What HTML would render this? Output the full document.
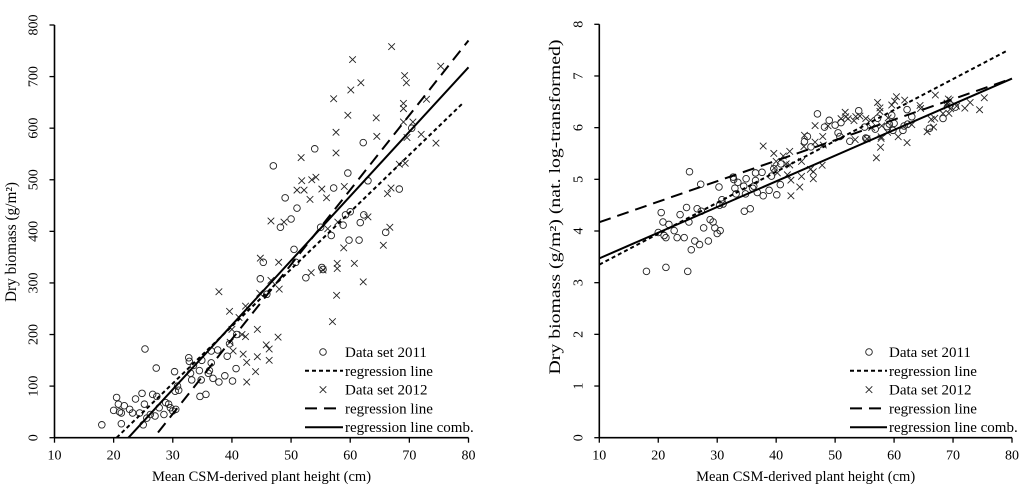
<!DOCTYPE html>
<html><head><meta charset="utf-8"><style>
body{margin:0;background:#fff}
svg{display:block;font-family:"Liberation Serif",serif}
</style></head><body>
<svg id="fig" width="1024" height="491" viewBox="0 0 1024 491"></svg>
<script>
// ---- data ----
const x2011 = [18,20,20.5,20.8,21,21.3,21.3,21.8,22.7,23.2,23.7,24.4,24.8,25,25.2,25.3,25.6,26.2,26.6,27,27.2,27.3,27.7,28.5,28.8,29.3,29.6,30,30.3,30.4,30.5,30.8,31,32.7,32.8,33,33.2,33.5,34.5,34.6,34.8,34.9,35.6,36,36.2,36.5,36.5,36.8,37.6,37.8,38.8,39.2,39.6,40.1,40.7,40.8,44.8,45.3,45.9,47,48.2,49,50,50.5,50.8,51,52.5,54,55,55.2,55.4,56.8,57.2,58.8,59.2,59.6,59.8,60,61.5,61.7,62.2,62.3,63,66,68.3,70.4];
const y2011 = [25,53,78,65,50,27,48,62,55,48,75,48,86,25,65,172,38,45,84,42,135,80,58,45,68,65,58,52,128,90,55,100,92,155,148,125,112,140,130,80,112,150,84,125,130,145,168,115,170,108,120,158,182,110,134,200,308,340,278,527,408,465,424,365,340,445,310,560,408,330,326,392,484,412,432,513,383,438,383,417,572,432,498,398,482,600];
const x2012 = [37.8,39.6,39.7,40,40.2,41.2,41.7,41.9,42.3,42.3,42.5,42.5,44,44.3,44.3,44.7,44.8,45.8,46.3,46.3,46.6,46.6,47.8,47.9,48,48.8,51,51.7,51.8,52.2,53.2,53.4,53.5,54.2,55.2,55.4,56,56.2,57,57.2,57.6,57.6,57.7,57.8,57.8,57.9,58.9,59,59.6,60.1,60.4,60.7,61.8,62.2,63,64.4,64.5,65.6,66.3,66.7,66.9,67,68.3,69,69,69.2,69.3,69.5,69.6,72,72.9,74.5,75.3,70.6,69];
const y2012 = [283,245,185,210,168,233,200,162,255,196,108,146,128,210,157,280,348,180,150,172,305,420,195,340,288,418,480,543,498,480,462,320,500,505,482,325,465,405,225,657,592,552,276,338,328,418,368,487,625,674,733,338,688,302,428,620,584,373,473,408,484,758,530,648,612,702,532,688,582,588,656,571,720,612,638];
// regression lines [x0, y0, x1, y1]
const regLin2011 = [20.5,0,79,648];
const regLin2012 = [27.5,10,80,770];
const regLinComb = [22.5,0,80,718];
const regLog2011 = [10,3.35,79,7.48];
const regLog2012 = [10,4.17,80,6.95];
const regLogComb = [10,3.47,80,6.95];
const xTicks = [10,20,30,40,50,60,70,80];
const yTicksLin = [0,100,200,300,400,500,600,700,800];
const yTicksLog = [0,1,2,3,4,5,6,7,8];

const NS="http://www.w3.org/2000/svg";
const svg=document.getElementById('fig');
function mk(tag,attrs,parent){const e=document.createElementNS(NS,tag);for(const k in attrs)e.setAttribute(k,attrs[k]);(parent||svg).appendChild(e);return e;}

function chart(cfg){
  const g=mk('g',{});
  
  
  const sx=v=>cfg.x0+(v-10)/70*(cfg.x1-cfg.x0);
  const sy=v=>cfg.yb-(v-cfg.ymin)/(cfg.ymax-cfg.ymin)*(cfg.yb-cfg.yt);
  const xa=mk('line',{x1:cfg.x0,y1:cfg.yb,x2:cfg.x1,y2:cfg.yb,stroke:'#000','stroke-width':1.6},g);
  
  
  const ya=mk('line',{x1:cfg.x0,y1:cfg.yb,x2:cfg.x0,y2:cfg.yt,stroke:'#000','stroke-width':1.6},g);
  
  
  xTicks.forEach(t=>{
    mk('line',{x1:sx(t),y1:cfg.yb,x2:sx(t),y2:cfg.yb+5,stroke:'#000','stroke-width':1.3},g);
    const tx=mk('text',{x:sx(t),y:cfg.yb+22,'text-anchor':'middle','font-size':14},g);
    tx.textContent=t;
    
    
  });
  cfg.yTicks.forEach(t=>{
    mk('line',{x1:cfg.x0-5,y1:sy(t),x2:cfg.x0,y2:sy(t),stroke:'#000','stroke-width':1.3},g);
    const tx=mk('text',{x:0,y:0,'text-anchor':'middle','font-size':14,transform:`translate(${cfg.x0-17},${sy(t)}) rotate(-90)`},g);
    tx.textContent=t;
    
    
  });
  const xt=mk('text',{x:(cfg.x0+cfg.x1)/2,y:481,'text-anchor':'middle','font-size':14.5},g);
  xt.textContent='Mean CSM-derived plant height (cm)';
  
  
  const yt=mk('text',{x:-cfg.ytl/2,y:0,'font-size':15.5,textLength:cfg.ytl,lengthAdjust:'spacingAndGlyphs',transform:`translate(${cfg.ytx},${cfg.ytc}) rotate(-90)`},g);
  yt.textContent=cfg.ytitle;
  
  
  x2011.forEach((x,i)=>{
    const c=mk('circle',{cx:sx(x),cy:sy(cfg.f(y2011[i])),r:3.3,fill:'none',stroke:'#222','stroke-width':0.9},g);
    
    
  });
  x2012.forEach((x,i)=>{
    const px=sx(x),py=sy(cfg.f(y2012[i])),d=3.3;
    const p=mk('path',{d:`M${px-d},${py-d}L${px+d},${py+d}M${px-d},${py+d}L${px+d},${py-d}`,stroke:'#222','stroke-width':0.9},g);
    
    
  });
  const styles=[[cfg.r11,'4,3','regression-line-2011'],[cfg.r12,'12,7','regression-line-2012'],[cfg.rc,'none','regression-line-combined']];
  styles.forEach(([r,da,nm])=>{
    const l=mk('line',{x1:sx(r[0]),y1:sy(r[1]),x2:sx(r[2]),y2:sy(r[3]),stroke:'#000','stroke-width':2,'stroke-dasharray':da},g);
    
    
  });
  const lg=mk('g',{},g);
  
  
  const labels=['Data set 2011','regression line','Data set 2012','regression line','regression line comb.'];
  const L=cfg.leg;
  labels.forEach((lab,i)=>{
    const y=352+i*18.8;
    if(i===0) mk('circle',{cx:L.sym,cy:y,r:3.3,fill:'none',stroke:'#222','stroke-width':0.9},lg);
    else if(i===2) mk('path',{d:`M${L.sym-3.3},${y-3.3}L${L.sym+3.3},${y+3.3}M${L.sym-3.3},${y+3.3}L${L.sym+3.3},${y-3.3}`,stroke:'#222','stroke-width':0.9},lg);
    else mk('line',{x1:L.l0,y1:y,x2:L.l1,y2:y,stroke:'#000','stroke-width':2,'stroke-dasharray':i===1?'4,3':(i===3?'12,7':'none')},lg);
    const t=mk('text',{x:L.tx,y:y+5,'font-size':15},lg);
    t.textContent=lab;
    
    
  });
}
chart({name:'linear-chart',x0:54.5,x1:468.5,yb:437.7,yt:25,ymin:0,ymax:800,yTicks:yTicksLin,f:v=>v,ytx:16,ytc:242,ytl:120,
  ytitle:'Dry biomass (g/m²)',r11:regLin2011,r12:regLin2012,rc:regLinComb,leg:{sym:323,l0:305,l1:343,tx:345}});
chart({name:'log-chart',x0:599.3,x1:1012,yb:437.7,yt:24.3,ymin:0,ymax:8,yTicks:yTicksLog,f:v=>Math.log(v),ytx:560,ytc:207,ytl:335,
  ytitle:'Dry biomass (g/m²) (nat. log-transformed)',r11:regLog2011,r12:regLog2012,rc:regLogComb,leg:{sym:869,l0:850,l1:887,tx:889}});
</script>
</body></html>
